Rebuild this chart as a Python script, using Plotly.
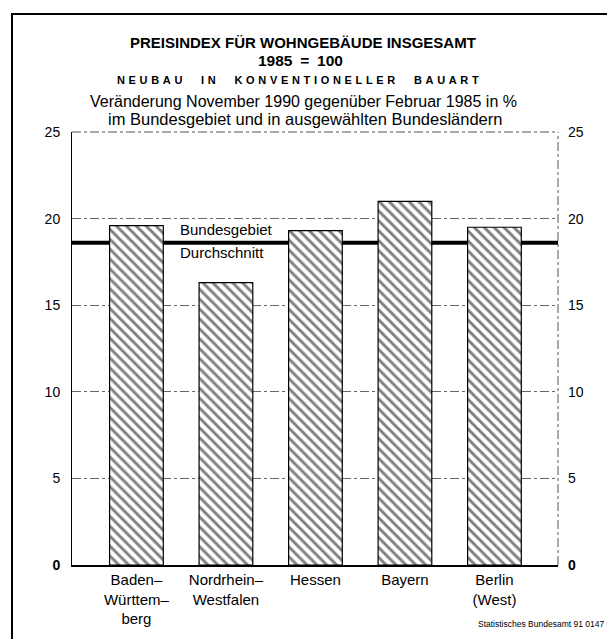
import plotly.graph_objects as go

# ---- data ----
CATEGORIES = ["Baden–<br>Württem–<br>berg", "Nordrhein–<br>Westfalen", "Hessen", "Bayern", "Berlin<br>(West)"]
VALUES = [19.6, 16.3, 19.3, 21.0, 19.5]
BUNDES_AVG = 18.6
Y_TICKS = [0, 5, 10, 15, 20, 25]
Y_TICK_LABELS = ["<b>0</b>", "5", "10", "15", "20", "25"]

FONT = "Liberation Sans, Arial, Helvetica, sans-serif"

W, H = 607, 639
L, R, T, B = 72, 49, 132, 67
pw, ph = W - L - R, H - T - B

def px_x(x):
    return (x - L) / pw

def px_y(y):
    return (H - B - y) / ph

fig = go.Figure()

fig.add_trace(go.Bar(
    x=list(range(len(CATEGORIES))),
    y=VALUES,
    width=0.6,
    marker=dict(
        color="white",
        line=dict(color="black", width=1.2),
        pattern=dict(shape="\\", fgcolor="black", bgcolor="white", size=7, solidity=0.42),
    ),
    hoverinfo="skip",
    showlegend=False,
))

# invisible trace to anchor the right-hand axis
fig.add_trace(go.Scatter(
    x=list(range(len(CATEGORIES))), y=VALUES, yaxis="y2",
    mode="markers", marker=dict(opacity=0), hoverinfo="skip", showlegend=False,
))

shapes = [
    # Bundesgebiet average line (behind bars)
    dict(type="line", xref="paper", yref="y", x0=0, x1=1, y0=BUNDES_AVG, y1=BUNDES_AVG,
         line=dict(color="black", width=4), layer="below"),
    # top frame (dash-dot)
    dict(type="line", xref="paper", yref="paper", x0=0, x1=1, y0=1, y1=1,
         line=dict(color="#555", width=1, dash="dashdot"), layer="above"),
    # right frame (dash-dot)
    dict(type="line", xref="paper", yref="paper", x0=1, x1=1, y0=0, y1=1,
         line=dict(color="#555", width=1, dash="dashdot"), layer="above"),
    # outer border
    dict(type="rect", xref="paper", yref="paper",
         x0=px_x(12), x1=px_x(640), y0=px_y(680), y1=px_y(12),
         line=dict(color="black", width=2), layer="above"),
]

spaced = "\u2003\u2002\u2009".join("\u2004".join(list(w)) for w in "NEUBAU IN KONVENTIONELLER BAUART".split())

annotations = [
    dict(text="<b>PREISINDEX FÜR WOHNGEBÄUDE INSGESAMT</b>", x=0.476, y=px_y(41),
         font=dict(size=15, family=FONT, color="black")),
    dict(text="<b>1985\u2002=\u2002100</b>", x=0.47, y=px_y(59),
         font=dict(size=15.5, family=FONT, color="black")),
    dict(text="<b>" + spaced + "</b>", x=0.465, y=px_y(79),
         font=dict(size=11, family=FONT, color="black")),
    dict(text="Veränderung November 1990 gegenüber Februar 1985 in %", x=0.477, y=px_y(101),
         font=dict(size=16, family=FONT, color="black")),
    dict(text="im Bundesgebiet und in ausgewählten Bundesländern", x=0.48, y=px_y(119),
         font=dict(size=16.5, family=FONT, color="black")),
    dict(text="Bundesgebiet", x=px_x(178), y=px_y(231), xanchor="left",
         font=dict(size=15, family=FONT, color="black")),
    dict(text="Durchschnitt", x=px_x(178), y=px_y(254), xanchor="left",
         font=dict(size=15, family=FONT, color="black")),
    dict(text="Statistisches Bundesamt 91 0147", x=px_x(606), y=px_y(632), xanchor="right",
         font=dict(size=8.5, family=FONT, color="black")),
]
for a in annotations:
    a.setdefault("xref", "paper")
    a.setdefault("yref", "paper")
    a.setdefault("showarrow", False)
    a.setdefault("yanchor", "middle")

fig.update_layout(
    width=W, height=H,
    margin=dict(l=L, r=R, t=T, b=B),
    paper_bgcolor="white", plot_bgcolor="white",
    font=dict(family=FONT, color="black"),
    showlegend=False,
    shapes=shapes,
    annotations=annotations,
    xaxis=dict(
        range=[-0.72, 4.71],
        tickmode="array", tickvals=list(range(len(CATEGORIES))), ticktext=CATEGORIES,
        showgrid=False, zeroline=False,
        showline=True, linecolor="black", linewidth=2,
        ticks="", tickfont=dict(size=15, family=FONT, color="black"),
        fixedrange=True,
    ),
    yaxis=dict(
        range=[0, 25],
        tickmode="array", tickvals=Y_TICKS, ticktext=Y_TICK_LABELS,
        showgrid=True, gridcolor="#666", gridwidth=1, griddash="dashdot",
        zeroline=False,
        showline=True, linecolor="black", linewidth=1,
        ticks="", ticklabelstandoff=8,
        tickfont=dict(size=14, family=FONT, color="black"),
        fixedrange=True,
    ),
    yaxis2=dict(
        range=[0, 25], overlaying="y", side="right",
        tickmode="array", tickvals=Y_TICKS, ticktext=Y_TICK_LABELS,
        showgrid=False, zeroline=False, showline=False,
        ticks="", ticklabelstandoff=9,
        tickfont=dict(size=14, family=FONT, color="black"),
        fixedrange=True,
    ),
)

fig.write_html(
    "out.html",
    config={"displayModeBar": False},
    post_script="document.body.style.margin='0';document.body.style.overflow='hidden';",
)
